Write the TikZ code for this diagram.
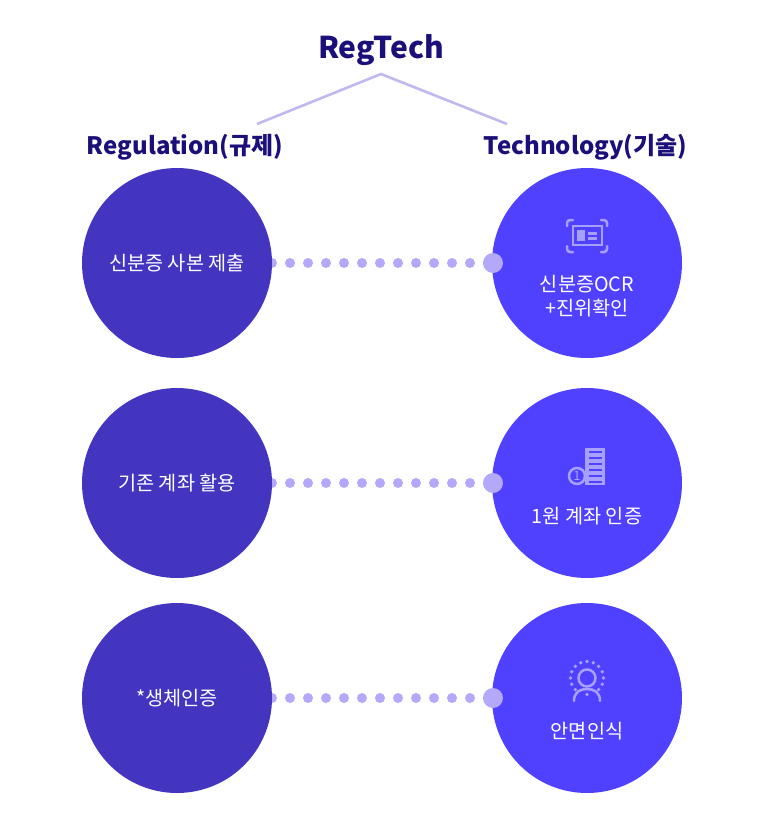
\documentclass[tikz,border=0pt]{standalone}
\usepackage{fontspec}
\setmainfont{Noto Sans CJK KR}
\usepackage{xcolor}
\usetikzlibrary{positioning, backgrounds}
\definecolor{tnavy}{RGB}{27,15,122}
\definecolor{tindigo}{RGB}{67,53,192}
\definecolor{tviolet}{RGB}{80,64,255}
\definecolor{tline}{RGB}{192,184,240}
\definecolor{tdot}{RGB}{180,168,248}
\definecolor{ticon}{RGB}{168,160,255}

\begin{document}
\begin{tikzpicture}[
  x=1pt, y=-1pt,
  regc/.style={circle, fill=tindigo, text=white, minimum size=190pt, inner sep=0pt, outer sep=0pt,
               font=\fontsize{19.7}{23}\selectfont},
  techc/.style={circle, fill=tviolet, minimum size=190pt, inner sep=0pt, outer sep=0pt},
  techlab/.style={text=white, align=center, inner sep=0pt, font=\fontsize{19.7}{24}\selectfont},
  head/.style={text=tnavy, inner sep=0pt, font=\fontsize{24}{30}\selectfont\bfseries},
  link/.style={tdot, line width=10pt, line cap=round, dash pattern=on 0pt off 18pt},
  enddot/.style={circle, fill=tdot, minimum size=20pt, inner sep=0pt},
  stem/.style={tline, line width=2.6pt},
  ico/.style={ticon, line width=2.5pt},
  brk/.style={ico, line cap=round, rounded corners=3pt}
]
\useasboundingbox (0,0) rectangle (768,823);

% ---- Title and branches ----
\node[head, font=\fontsize{30}{36}\selectfont\bfseries] (ttl) at (381,50) {RegTech};
\node[head] (hreg) at (185,147) {Regulation(규제)};
\node[head] (htech) at (585.5,147) {Technology(기술)};
\coordinate (apex) at (381,74);
\coordinate (legl) at (257,124);
\coordinate (legr) at (507,124);
\draw[stem] (legl) -- (apex) -- (legr);

% ---- Circles ----
\node[regc] (r1) at (177,263) {신분증 사본 제출};
\node[regc, below=30pt of r1] (r2) {기존 계좌 활용};
\node[regc, below=25pt of r2] (r3) {*생체인증};
\node[techc, right=220pt of r1] (t1) {};
\node[techc, right=220pt of r2] (t2) {};
\node[techc, right=220pt of r3] (t3) {};

% ---- Dotted links ----
\begin{scope}[on background layer]
  \foreach \i in {1,2,3}
    \draw[link] (r\i.east) -- (t\i.west);
\end{scope}
\foreach \i in {1,2,3}
  \node[enddot, xshift=1pt] (e\i) at (t\i.west) {};

% ---- Labels ----
\node[techlab] (l1) at (587,296) {신분증OCR\\+진위확인};
\node[techlab] (l2) at (587,516) {1원 계좌 인증};
\node[techlab] (l3) at (587,731) {안면인식};

% ---- Icon: id card ----
\draw[brk] (567,226) -- (567,220) -- (573,220);
\draw[brk] (601,220) -- (607,220) -- (607,226);
\draw[brk] (567,246) -- (567,252) -- (573,252);
\draw[brk] (601,252) -- (607,252) -- (607,246);
\draw[ico] (573,226) rectangle (602,245);
\fill[ticon] (577,230) rectangle (585,241);
\fill[ticon] (588,232) rectangle (597,235);
\fill[ticon] (588,237) rectangle (597,240);

% ---- Icon: bank book ----
\fill[ticon] (585,448) rectangle (605,485);
\foreach \y in {452,458,464,470,476,482}
  \fill[tviolet] (589,\y-1) rectangle (602,\y+1);
\draw[ico, fill=tviolet] (577,476) circle[radius=8];
\node[text=ticon, inner sep=0pt, font=\fontsize{13}{15}\selectfont] (one) at (577,476) {1};

% ---- Icon: face ----
\draw[ico] (587,678) circle[radius=8.5];
\foreach \a in {-45,-22.5,0,22.5,45,67.5,90,112.5,135,157.5,180,202.5,225,270}
  \fill[ticon] ({587+16.5*cos(\a)},{678-16.5*sin(\a)}) circle[radius=1.9];
\draw[ico, line cap=round] (574,701) .. controls (574,692) and (580,689) .. (587,689)
  .. controls (594,689) and (600,692) .. (600,701);

\end{tikzpicture}
\end{document}
